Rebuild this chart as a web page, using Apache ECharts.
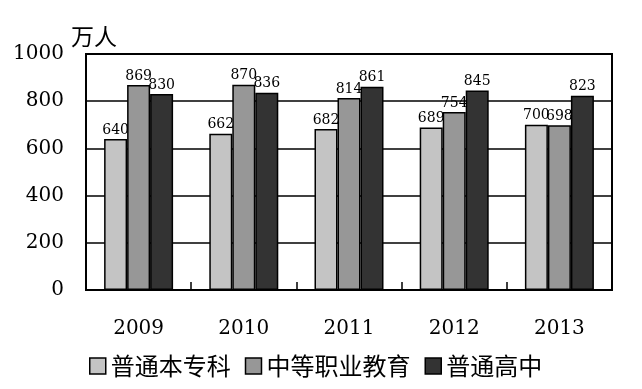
<!DOCTYPE html>
<html><head><meta charset="utf-8">
<script src="https://cdn.jsdelivr.net/npm/echarts@6/dist/echarts.min.js"></script>
<style>html,body{margin:0;padding:0;background:#fff}#c{width:642px;height:389px}</style>
</head><body><div id="c"></div>
<script>
const categories = ['2009','2010','2011','2012','2013'];
const seriesNames = ['普通本专科','中等职业教育','普通高中'];
const undergrad = [640, 662, 682, 689, 700];
const vocational = [869, 870, 814, 754, 698];
const highschool = [830, 836, 861, 845, 823];
const yTicks = [0, 200, 400, 600, 800, 1000];
const unitLabel = '万人';

const serif = '"DejaVu Serif", "Liberation Serif", serif';
const cjk = '"Noto Sans CJK SC", sans-serif';
const colors = ['#c4c4c4', '#979797', '#333333'];
const values = [undergrad, vocational, highschool];

const chart = echarts.init(document.getElementById('c'));
chart.setOption({
  animation: false,
  backgroundColor: '#fff',
  title: {text: unitLabel, left: 66, top: 20, textStyle: {fontFamily: cjk, fontSize: 23, fontWeight: 'normal', color: '#000'}},
  grid: {left: 86, right: 30, top: 54, bottom: 99, show: true, borderColor: '#000', borderWidth: 2, containLabel: false},
  legend: {
    left: 84, top: 349, itemWidth: 16, itemHeight: 16, itemGap: 14,
    textStyle: {fontFamily: cjk, fontSize: 24, color: '#000'},
    data: seriesNames.map((n, i) => ({name: n, icon: 'rect', itemStyle: {color: colors[i], borderColor: '#000', borderWidth: 1.5}}))
  },
  xAxis: {
    type: 'category', data: categories,
    axisLine: {show: true, lineStyle: {color: '#000', width: 2}},
    axisTick: {show: true, inside: true, length: 8, lineStyle: {color: '#000', width: 1.5}},
    axisLabel: {fontFamily: serif, fontSize: 20, color: '#000', margin: 29}
  },
  yAxis: {
    type: 'value', min: yTicks[0], max: yTicks[yTicks.length - 1], interval: 200,
    axisLine: {show: true, lineStyle: {color: '#000', width: 2}},
    axisTick: {show: false},
    axisLabel: {fontFamily: serif, fontSize: 20, color: '#000', margin: 22, formatter: v => String(v)},
    splitLine: {show: true, lineStyle: {color: '#000', width: 1.5}}
  },
  series: seriesNames.map((n, i) => ({
    name: n, type: 'bar', data: values[i], barWidth: 23, barGap: '0%',
    itemStyle: {color: colors[i], borderColor: '#000', borderWidth: 1.5},
    label: {show: true, position: 'top', distance: 2, fontFamily: serif, fontSize: 14, color: '#000'}
  }))
});
</script></body></html>
